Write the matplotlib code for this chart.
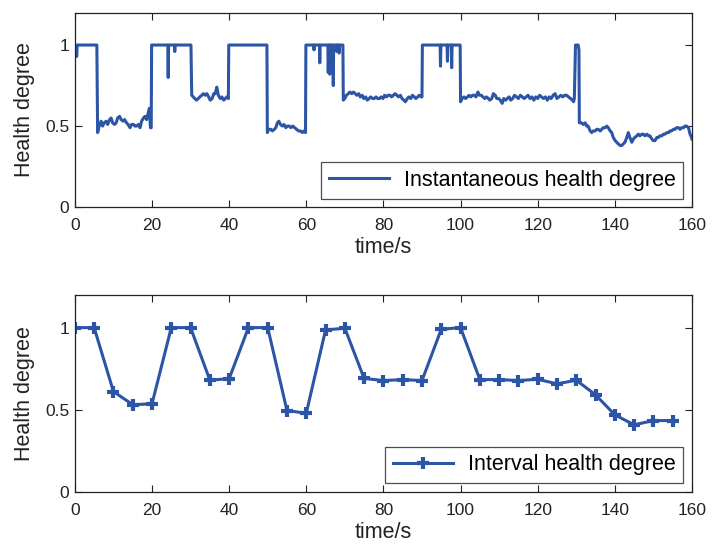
import matplotlib
matplotlib.use("Agg")
import matplotlib.pyplot as plt

plt.rcParams["font.family"] = ["Liberation Sans", "DejaVu Sans"]

# ---- instantaneous health degree ----
inst_t = [
    0, 0.5, 0.6, 5.7, 5.9,
    6.3, 6.8, 7.2, 7.6, 8.1, 8.5, 9.0, 9.4, 9.8, 10.3, 10.7, 11.1, 11.6, 12.0, 12.5,
    12.9, 13.4, 13.8, 14.3, 14.7, 15.2, 15.6, 16.0, 16.5, 16.9, 17.3, 17.8, 18.2, 18.6,
    19.0, 19.3, 19.6, 19.8,
    19.9, 24.1, 24.2, 24.3, 25.8, 25.9, 26.0, 30.1,
    30.3, 30.7, 31.1, 31.5, 32.0, 32.4, 32.9, 33.3, 33.8, 34.2, 34.7, 35.1, 35.6, 36.0,
    36.4, 36.8, 37.2, 37.7, 38.1, 38.6, 39.0, 39.4, 39.8,
    39.9, 49.8,
    49.9, 50.3, 50.8, 51.2, 51.7, 52.1, 52.5, 52.9, 53.3, 53.8, 54.2, 54.7, 55.1, 55.6,
    56.0, 56.5, 57.0, 57.5, 58.0, 58.5, 59.0, 59.4, 59.8,
    59.9, 61.9, 62.0, 62.1, 63.4, 63.5, 63.6, 65.6, 65.7, 65.8, 66.0, 66.1, 66.2,
    66.9, 67.0, 67.1, 67.8, 67.9, 68.0, 68.4, 68.5, 68.6, 69.5,
    69.6, 70.0, 70.4, 70.9, 71.3, 71.8, 72.2, 72.7, 73.1, 73.6, 74.0, 74.5, 74.9, 75.4,
    75.8, 76.3, 76.7, 77.2, 77.6, 78.1, 78.5, 79.0, 79.4, 79.9, 80.3, 80.8, 81.2, 81.7,
    82.1, 82.6, 83.0, 83.5, 83.9, 84.4, 84.8, 85.3, 85.7, 86.2, 86.6, 87.1, 87.5, 88.0,
    88.4, 88.9, 89.3, 89.8, 90.0,
    90.1, 94.7, 94.8, 94.9, 96.5, 96.6, 96.7, 97.6, 97.7, 97.8, 99.9,
    100.0, 100.4, 100.9, 101.3, 101.8, 102.2, 102.7, 103.1, 103.6, 104.0, 104.5, 104.9,
    105.4, 105.8, 106.3, 106.7, 107.2, 107.6, 108.1, 108.5, 109.0, 109.4, 109.9, 110.3,
    110.8, 111.2, 111.7, 112.1, 112.6, 113.0, 113.5, 114.0, 114.5, 115.0, 115.5, 116.0,
    116.5, 117.0, 117.5, 118.0, 118.5, 119.0, 119.5, 120.0, 120.5, 121.0, 121.5, 122.0,
    122.5, 123.0, 123.5, 124.0, 124.5, 125.0, 125.5, 126.0, 126.5, 127.0, 127.5, 128.0,
    128.5, 129.0, 129.3, 129.5,
    129.8, 130.5, 130.7,
    130.8, 131.4, 131.8, 132.3, 132.7, 133.1, 133.6, 134.0, 134.4, 134.9, 135.3, 135.7,
    136.2, 136.6, 137.0, 137.5, 137.9, 138.3, 138.8, 139.2, 139.6, 140.1, 140.5, 140.9,
    141.4, 141.8, 142.2, 142.6, 143.1, 143.5, 143.9, 144.4, 144.8, 145.2, 145.7, 146.1,
    146.5, 147.0, 147.4, 147.8, 148.3, 148.7, 149.1, 149.6, 150.0, 150.4, 150.9, 151.3,
    151.7, 152.2, 152.6, 153.0, 153.5, 153.9, 154.3, 154.7, 155.2, 155.6, 156.0, 156.5,
    156.9, 157.3, 157.8, 158.2, 158.6, 159.1, 159.5, 159.9, 160.0,
]
inst_v = [
    0.93, 0.93, 1.0, 1.0, 0.46,
    0.50, 0.53, 0.50, 0.52, 0.53, 0.51, 0.54, 0.55, 0.52, 0.51, 0.52, 0.55, 0.56, 0.54, 0.53,
    0.54, 0.52, 0.51, 0.49, 0.51, 0.51, 0.50, 0.50, 0.51, 0.49, 0.53, 0.55, 0.56, 0.54,
    0.58, 0.61, 0.49, 0.49,
    1.0, 1.0, 0.80, 1.0, 1.0, 0.96, 1.0, 1.0,
    0.69, 0.68, 0.67, 0.66, 0.67, 0.68, 0.69, 0.70, 0.69, 0.70, 0.68, 0.66, 0.67, 0.70,
    0.70, 0.74, 0.69, 0.67, 0.68, 0.66, 0.67, 0.68, 0.67,
    1.0, 1.0,
    0.46, 0.48, 0.48, 0.47, 0.48, 0.49, 0.52, 0.53, 0.51, 0.50, 0.51, 0.49, 0.50, 0.50,
    0.49, 0.50, 0.49, 0.48, 0.47, 0.47, 0.46, 0.47, 0.46,
    1.0, 1.0, 0.97, 1.0, 1.0, 0.89, 1.0, 1.0, 0.83, 1.0, 1.0, 0.82, 1.0,
    1.0, 0.75, 1.0, 1.0, 0.96, 1.0, 1.0, 0.95, 1.0, 1.0,
    0.66, 0.67, 0.69, 0.70, 0.71, 0.70, 0.71, 0.70, 0.69, 0.70, 0.68, 0.69, 0.67, 0.68,
    0.66, 0.67, 0.68, 0.67, 0.67, 0.68, 0.67, 0.67, 0.68, 0.67, 0.69, 0.68, 0.69, 0.69,
    0.68, 0.69, 0.70, 0.69, 0.68, 0.69, 0.67, 0.66, 0.65, 0.67, 0.68, 0.67, 0.69, 0.68,
    0.67, 0.68, 0.69, 0.68, 0.68,
    1.0, 1.0, 0.87, 1.0, 1.0, 0.90, 1.0, 1.0, 0.86, 1.0, 1.0,
    0.65, 0.67, 0.68, 0.67, 0.68, 0.69, 0.68, 0.69, 0.69, 0.68, 0.71, 0.69,
    0.69, 0.68, 0.67, 0.68, 0.67, 0.66, 0.67, 0.70, 0.69, 0.67, 0.67, 0.66,
    0.64, 0.67, 0.66, 0.67, 0.68, 0.66, 0.67, 0.69, 0.68, 0.67, 0.69, 0.68,
    0.67, 0.68, 0.69, 0.67, 0.68, 0.66, 0.68, 0.67, 0.69, 0.68, 0.67, 0.68,
    0.66, 0.68, 0.67, 0.69, 0.70, 0.67, 0.68, 0.69, 0.68, 0.69, 0.69, 0.68,
    0.67, 0.66, 0.65, 0.67,
    1.0, 1.0, 0.97,
    0.52, 0.52, 0.51, 0.52, 0.50, 0.50, 0.47, 0.46, 0.47, 0.47, 0.48, 0.48,
    0.47, 0.48, 0.49, 0.49, 0.50, 0.49, 0.47, 0.46, 0.43, 0.41, 0.40, 0.39,
    0.38, 0.38, 0.39, 0.40, 0.43, 0.46, 0.43, 0.40, 0.42, 0.43, 0.44, 0.45,
    0.44, 0.45, 0.45, 0.44, 0.45, 0.44, 0.44, 0.42, 0.41, 0.41, 0.43, 0.43,
    0.44, 0.44, 0.45, 0.45, 0.46, 0.46, 0.47, 0.47, 0.48, 0.48, 0.49, 0.49,
    0.48, 0.49, 0.49, 0.50, 0.50, 0.49, 0.45, 0.43, 0.42,
]

# ---- interval health degree (every 5 s) ----
interval_t = [0, 5, 10, 15, 20, 25, 30, 35, 40, 45, 50, 55, 60, 65, 70, 75,
              80, 85, 90, 95, 100, 105, 110, 115, 120, 125, 130, 135, 140, 145, 150, 155]
interval_v = [1.0, 1.0, 0.61, 0.53, 0.535, 1.0, 1.0, 0.68, 0.688, 1.0, 1.0, 0.494,
              0.478, 0.986, 0.996, 0.69, 0.677, 0.683, 0.677, 0.99, 1.0, 0.683,
              0.683, 0.677, 0.685, 0.657, 0.679, 0.59, 0.468, 0.407, 0.433, 0.433]

LINE_COLOR = "#2D55A5"
TXT = "#222222"

fig = plt.figure(figsize=(7.13, 5.48), dpi=100)
ax1 = fig.add_axes([0.105, 0.622, 0.8655, 0.355])
ax2 = fig.add_axes([0.105, 0.103, 0.8655, 0.359])

ax1.plot(inst_t, inst_v, color=LINE_COLOR, linewidth=2.2,
         label="Instantaneous health degree")
ax2.plot(interval_t, interval_v, color=LINE_COLOR, linewidth=2.2,
         marker="+", markersize=9, markeredgewidth=3,
         label="Interval health degree")

for ax in (ax1, ax2):
    ax.set_xlim(0, 160)
    ax.set_ylim(0, 1.2)
    ax.set_xticks([0, 20, 40, 60, 80, 100, 120, 140, 160])
    ax.set_yticks([0, 0.5, 1])
    ax.set_yticklabels(["0", "0.5", "1"])
    ax.tick_params(direction="in", top=True, right=True, length=5, width=0.8,
                   labelsize=12.5, colors=TXT)
    ax.tick_params(axis="x", pad=8)
    ax.tick_params(axis="y", pad=4)
    for sp in ax.spines.values():
        sp.set_linewidth(0.9)
        sp.set_color(TXT)
    ax.set_xlabel("time/s", fontsize=15.5, color=TXT, labelpad=3)
    ax.set_ylabel("Health degree", fontsize=15.5, color=TXT, labelpad=7)
    leg = ax.legend(loc="lower right", fontsize=15.5, handlelength=2.8,
                    fancybox=False, edgecolor=TXT, borderpad=0.35,
                    borderaxespad=0.4, handletextpad=0.7)
    leg.get_frame().set_linewidth(0.9)

fig.savefig("out.png", dpi=100)
